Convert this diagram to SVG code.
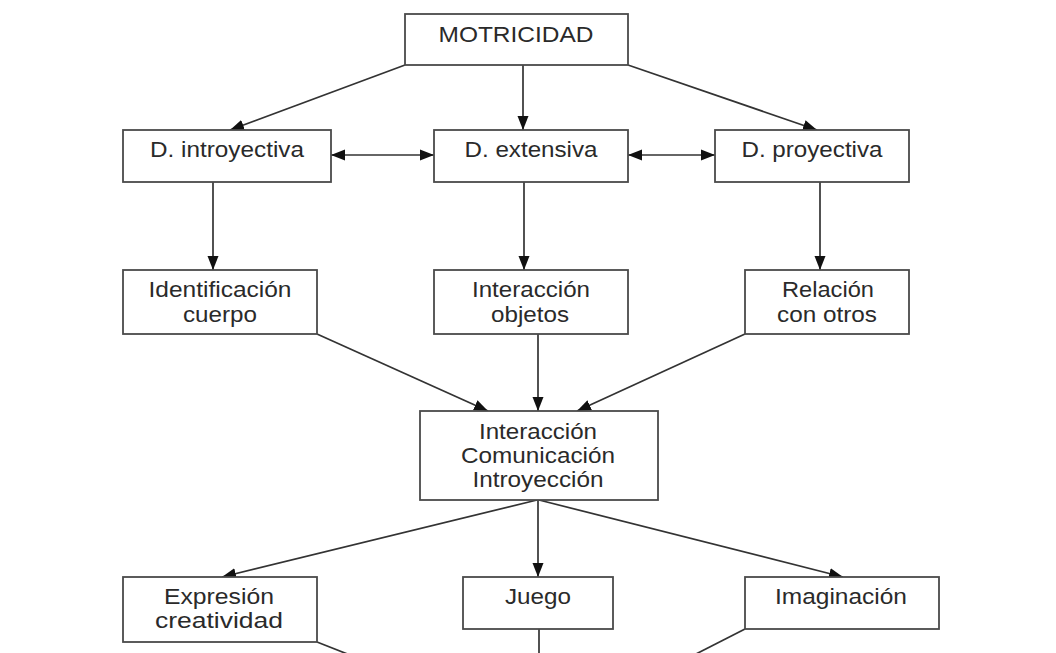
<svg xmlns="http://www.w3.org/2000/svg" width="1056" height="653" viewBox="0 0 1056 653">
<defs>
<marker id="ah" markerUnits="userSpaceOnUse" markerWidth="14" markerHeight="14" viewBox="0 0 14 14" refX="14" refY="7" orient="auto-start-reverse">
<path d="M0,1.5 L14,7 L0,12.5 Z" fill="#111"/>
</marker>
<style>
.box{fill:#fff;stroke:#4a4a4a;stroke-width:1.8}
.t{font-family:"Liberation Sans",Arial,sans-serif;font-size:22px;fill:#2a2a2a;text-anchor:middle}
.c{fill:none;stroke:#333;stroke-width:1.7}
</style>
</defs>
<rect width="1056" height="653" fill="#fff"/>
<g id="connectors">
<line class="c" x1="405" y1="65" x2="230" y2="130" marker-end="url(#ah)"/>
<line class="c" x1="523" y1="65" x2="523" y2="130" marker-end="url(#ah)"/>
<line class="c" x1="628" y1="65" x2="817" y2="130" marker-end="url(#ah)"/>
<line class="c" x1="331" y1="155" x2="434" y2="155" marker-start="url(#ah)" marker-end="url(#ah)"/>
<line class="c" x1="628" y1="155" x2="715" y2="155" marker-start="url(#ah)" marker-end="url(#ah)"/>
<line class="c" x1="213" y1="182" x2="213" y2="270" marker-end="url(#ah)"/>
<line class="c" x1="524" y1="182" x2="524" y2="270" marker-end="url(#ah)"/>
<line class="c" x1="820" y1="182" x2="820" y2="270" marker-end="url(#ah)"/>
<line class="c" x1="317" y1="334" x2="488" y2="411" marker-end="url(#ah)"/>
<line class="c" x1="538" y1="334" x2="538" y2="411" marker-end="url(#ah)"/>
<line class="c" x1="745" y1="334" x2="577" y2="411" marker-end="url(#ah)"/>
<line class="c" x1="537" y1="500" x2="222" y2="577" marker-end="url(#ah)"/>
<line class="c" x1="538" y1="500" x2="538" y2="577" marker-end="url(#ah)"/>
<line class="c" x1="539" y1="500" x2="843" y2="577" marker-end="url(#ah)"/>
<line class="c" x1="317" y1="642" x2="350" y2="655"/>
<line class="c" x1="539" y1="629" x2="539" y2="655"/>
<line class="c" x1="745" y1="629" x2="694" y2="655"/>
</g>
<g id="motricidad">
<rect class="box" x="405" y="14" width="223" height="51"/>
<text class="t" x="516" y="42" textLength="155" lengthAdjust="spacingAndGlyphs">MOTRICIDAD</text>
</g>
<g id="d-introyectiva">
<rect class="box" x="123" y="130" width="208" height="52"/>
<text class="t" x="227" y="157" textLength="154" lengthAdjust="spacingAndGlyphs">D. introyectiva</text>
</g>
<g id="d-extensiva">
<rect class="box" x="434" y="130" width="194" height="52"/>
<text class="t" x="531" y="157" textLength="133" lengthAdjust="spacingAndGlyphs">D. extensiva</text>
</g>
<g id="d-proyectiva">
<rect class="box" x="715" y="130" width="194" height="52"/>
<text class="t" x="812" y="157" textLength="141" lengthAdjust="spacingAndGlyphs">D. proyectiva</text>
</g>
<g id="identificacion">
<rect class="box" x="123" y="270" width="194" height="64"/>
<text class="t" x="220" y="297" textLength="143" lengthAdjust="spacingAndGlyphs">Identificación</text>
<text class="t" x="220" y="322" textLength="74" lengthAdjust="spacingAndGlyphs">cuerpo</text>
</g>
<g id="interaccion-objetos">
<rect class="box" x="434" y="270" width="194" height="64"/>
<text class="t" x="531" y="297" textLength="118" lengthAdjust="spacingAndGlyphs">Interacción</text>
<text class="t" x="530" y="322" textLength="78" lengthAdjust="spacingAndGlyphs">objetos</text>
</g>
<g id="relacion">
<rect class="box" x="745" y="270" width="164" height="64"/>
<text class="t" x="828" y="297" textLength="92" lengthAdjust="spacingAndGlyphs">Relación</text>
<text class="t" x="827" y="322" textLength="100" lengthAdjust="spacingAndGlyphs">con otros</text>
</g>
<g id="interaccion-comunicacion">
<rect class="box" x="420" y="411" width="238" height="89"/>
<text class="t" x="538" y="439" textLength="118" lengthAdjust="spacingAndGlyphs">Interacción</text>
<text class="t" x="538" y="463" textLength="154" lengthAdjust="spacingAndGlyphs">Comunicación</text>
<text class="t" x="538" y="487" textLength="131" lengthAdjust="spacingAndGlyphs">Introyección</text>
</g>
<g id="expresion">
<rect class="box" x="123" y="577" width="194" height="65"/>
<text class="t" x="219" y="604" textLength="110" lengthAdjust="spacingAndGlyphs">Expresión</text>
<text class="t" x="219" y="628" textLength="128" lengthAdjust="spacingAndGlyphs">creatividad</text>
</g>
<g id="juego">
<rect class="box" x="463" y="577" width="150" height="52"/>
<text class="t" x="538" y="604" textLength="66" lengthAdjust="spacingAndGlyphs">Juego</text>
</g>
<g id="imaginacion">
<rect class="box" x="745" y="577" width="194" height="52"/>
<text class="t" x="841" y="604" textLength="132" lengthAdjust="spacingAndGlyphs">Imaginación</text>
</g>
</svg>
